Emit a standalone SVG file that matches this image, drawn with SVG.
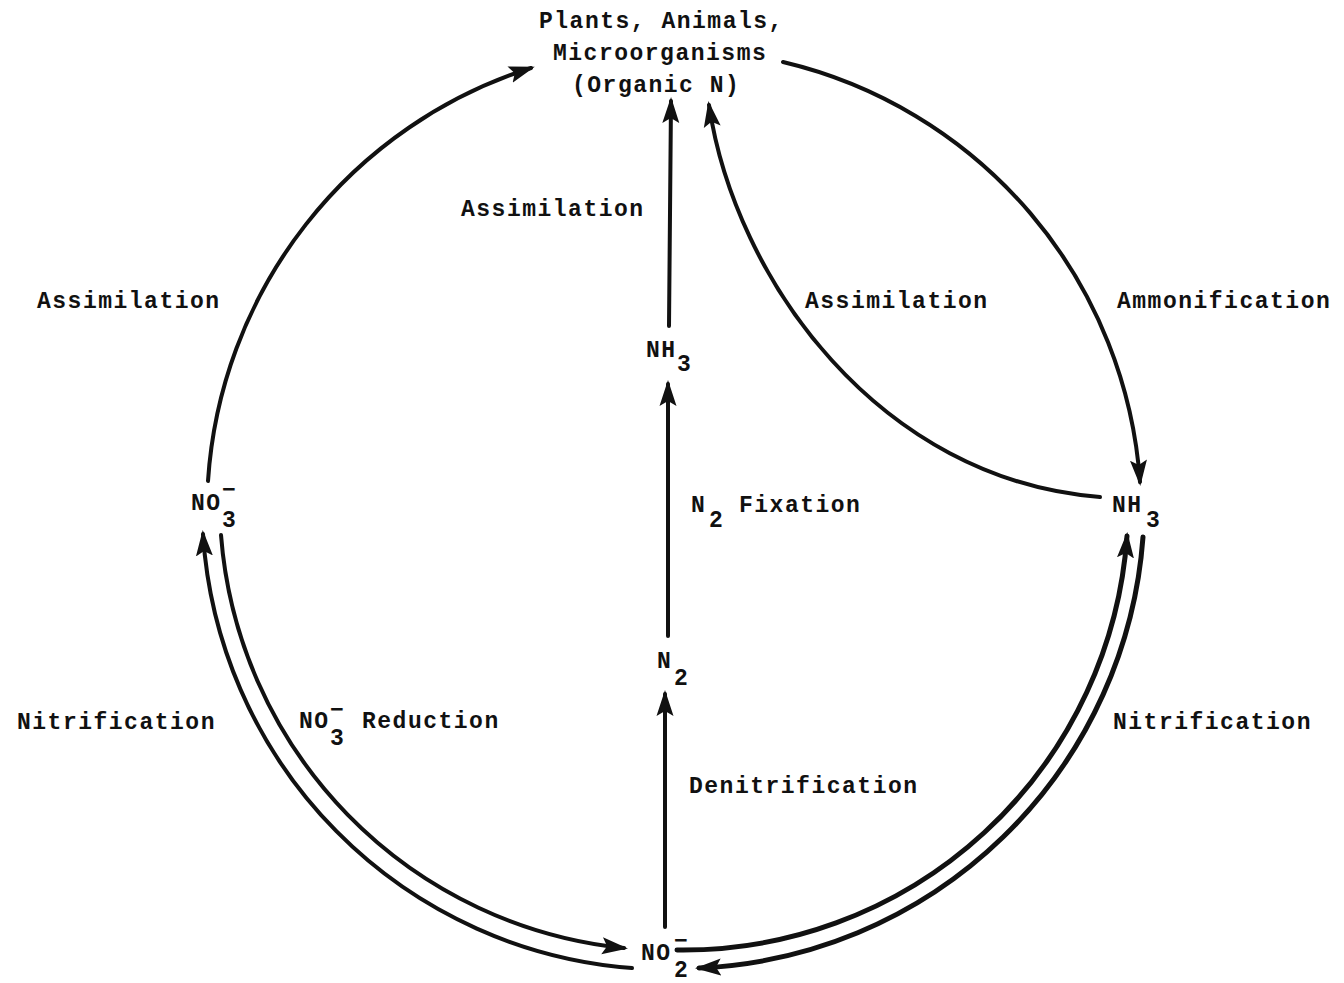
<svg xmlns="http://www.w3.org/2000/svg" width="1344" height="983" viewBox="0 0 1344 983">
<style>
text{font-family:"Liberation Mono","DejaVu Sans Mono",monospace;font-size:23px;font-weight:bold;fill:#111;letter-spacing:1.5px}
.c{fill:none;stroke:#111;stroke-width:4;stroke-linecap:round}
.t{stroke-width:5}
</style>
<defs>
<marker id="ah" viewBox="0 0 26 18" refX="22" refY="9" markerWidth="26" markerHeight="18" orient="auto" markerUnits="userSpaceOnUse">
<path d="M26,9 L0,0.5 L5,9 L0,17.5 Z" fill="#111"/>
</marker>
</defs>
<rect width="1344" height="983" fill="#fff"/>
<g id="connectors">
<path class="c" d="M208,481 A465,465 0 0 1 531,68" marker-end="url(#ah)"/>
<path class="c" d="M783,62 A465,465 0 0 1 1140,482" marker-end="url(#ah)"/>
<path class="c" d="M1100,497 C880,480 735,280 709,105" marker-end="url(#ah)"/>
<path class="c" d="M669,326 L671,101" marker-end="url(#ah)"/>
<path class="c" d="M668,636 L668,384" marker-end="url(#ah)"/>
<path class="c" d="M665,927 L665,694" marker-end="url(#ah)"/>
<path class="c" d="M632,968 A465,465 0 0 1 203,534" marker-end="url(#ah)"/>
<path class="c" d="M221,535 A450,450 0 0 0 624,948" marker-end="url(#ah)"/>
<path class="c t" d="M677,950 A445,445 0 0 0 1127,536" marker-end="url(#ah)"/>
<path class="c t" d="M1143,537 A465,465 0 0 1 699,968" marker-end="url(#ah)"/>
</g>
<g id="organic">
<text x="539" y="28">Plants, Animals,</text>
<text x="553" y="60">Microorganisms</text>
<text x="572" y="92">(Organic N)</text>
</g>
<g id="nh3-center"><text><tspan x="646" y="357">NH</tspan><tspan x="677" y="371">3</tspan></text></g>
<g id="nh3-right"><text><tspan x="1112" y="512">NH</tspan><tspan x="1146" y="527">3</tspan></text></g>
<g id="no3-left"><text><tspan x="191" y="510">NO</tspan><tspan x="222" y="527">3</tspan><tspan x="222" y="497">−</tspan></text></g>
<g id="n2"><text><tspan x="657" y="668">N</tspan><tspan x="674" y="685">2</tspan></text></g>
<g id="no2"><text><tspan x="641" y="960">NO</tspan><tspan x="674" y="977">2</tspan><tspan x="674" y="948">−</tspan></text></g>
<g id="labels">
<text x="37" y="308">Assimilation</text>
<text x="461" y="216">Assimilation</text>
<text x="805" y="308">Assimilation</text>
<text x="1117" y="308">Ammonification</text>
<text><tspan x="691" y="512">N</tspan><tspan x="709" y="527">2</tspan><tspan x="739" y="512">Fixation</tspan></text>
<text x="689" y="793">Denitrification</text>
<text x="17" y="729">Nitrification</text>
<text x="1113" y="729">Nitrification</text>
<text><tspan x="299" y="728">NO</tspan><tspan x="330" y="745">3</tspan><tspan x="330" y="717">−</tspan><tspan x="362" y="728">Reduction</tspan></text>
</g>
</svg>
